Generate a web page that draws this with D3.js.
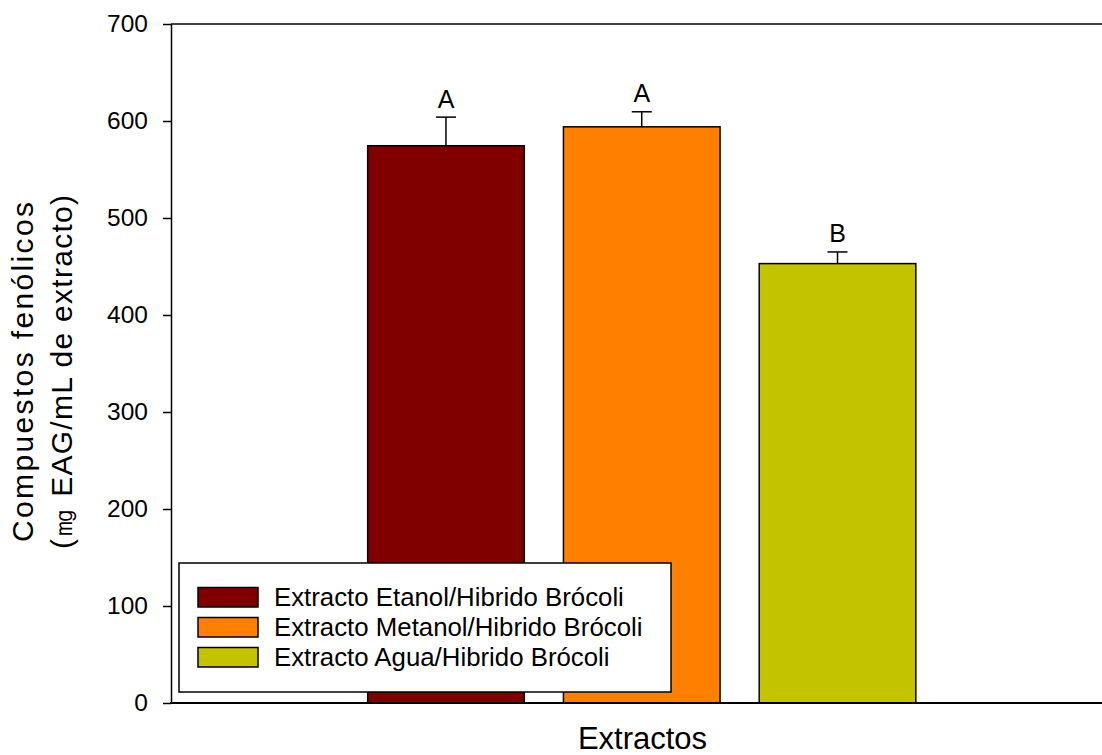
<!DOCTYPE html>
<html>
<head>
<meta charset="utf-8">
<script src="https://cdn.jsdelivr.net/npm/d3@7"></script>
<style>
  html, body { margin: 0; padding: 0; background: #fff; }
  svg { display: block; font-family: "Liberation Sans", Arial, sans-serif; }
</style>
</head>
<body>
<svg id="chart" width="1102" height="755"></svg>
<script>
// ---- data ----
const categories = ["Extracto Etanol/Hibrido Brócoli", "Extracto Metanol/Hibrido Brócoli", "Extracto Agua/Hibrido Brócoli"];
const values = [574.5, 594, 453];
const errors = [29.5, 15.5, 12];
const letters = ["A", "A", "B"];
const colors = ["#800000", "#FF8000", "#C3C300"];
const yTicks = [0, 100, 200, 300, 400, 500, 600, 700];
const yTitle = ["Compuestos fenólicos", "(㎎ EAG/mL de extracto)"];
const xTitle = "Extractos";

// ---- layout ----
const svg = d3.select("#chart");
const pLeft = 171, pRight = 1110, pTop = 24, pBottom = 703;

const y = d3.scaleLinear().domain([0, 700]).range([pBottom, pTop]);
const x = d3.scaleBand().domain(categories).range([348.1, 935.4]).paddingInner(0.2).paddingOuter(0.1);

// top frame line
svg.append("line").attr("x1", pLeft).attr("x2", pRight).attr("y1", pTop).attr("y2", pTop)
  .attr("stroke", "#000").attr("stroke-width", 1.5);

// bars
svg.selectAll("rect.bar").data(categories).join("rect").attr("class", "bar")
  .attr("x", d => x(d))
  .attr("width", x.bandwidth())
  .attr("y", (d, i) => y(values[i]))
  .attr("height", (d, i) => y(0) - y(values[i]))
  .attr("fill", (d, i) => colors[i])
  .attr("stroke", "#000").attr("stroke-width", 1.5);

// error bars
const eg = svg.selectAll("g.err").data(categories).join("g").attr("class", "err");
eg.append("line")
  .attr("x1", d => x(d) + x.bandwidth() / 2).attr("x2", d => x(d) + x.bandwidth() / 2)
  .attr("y1", (d, i) => y(values[i])).attr("y2", (d, i) => y(values[i] + errors[i]))
  .attr("stroke", "#000").attr("stroke-width", 1.5);
eg.append("line")
  .attr("x1", d => x(d) + x.bandwidth() / 2 - 10).attr("x2", d => x(d) + x.bandwidth() / 2 + 10)
  .attr("y1", (d, i) => y(values[i] + errors[i])).attr("y2", (d, i) => y(values[i] + errors[i]))
  .attr("stroke", "#000").attr("stroke-width", 1.5);
eg.append("text")
  .attr("x", d => x(d) + x.bandwidth() / 2)
  .attr("y", (d, i) => y(values[i] + errors[i]) - 9.5)
  .attr("text-anchor", "middle").attr("font-size", 25).attr("fill", "#000")
  .text((d, i) => letters[i]);

// y axis
const yAxis = d3.axisLeft(y).tickValues(yTicks).tickSize(8).tickPadding(15).tickSizeOuter(0);
const gy = svg.append("g").attr("transform", `translate(${pLeft},0)`).call(yAxis);
gy.select(".domain").attr("stroke", "#000").attr("stroke-width", 1.5);
gy.selectAll(".tick line").attr("stroke", "#000").attr("stroke-width", 1.5);
gy.selectAll(".tick text").attr("font-size", 24.5).attr("font-family", '"Liberation Sans", Arial, sans-serif').attr("fill", "#000");

// x axis (bottom line, no ticks)
const xAxis = d3.axisBottom(x).tickSize(0).tickFormat("").tickSizeOuter(0);
const gx = svg.append("g").attr("transform", `translate(0,${pBottom})`).call(xAxis);
gx.select(".domain").remove();
svg.append("line").attr("x1", pLeft - 1).attr("x2", pRight).attr("y1", pBottom).attr("y2", pBottom)
  .attr("stroke", "#000").attr("stroke-width", 2.2);

// x title
svg.append("text").attr("x", 642.5).attr("y", 749).attr("text-anchor", "middle")
  .attr("font-size", 31).attr("fill", "#000").text(xTitle);

// y title (two lines)
const yLens = [340, 354];
const yBase = [33, 72];
yTitle.forEach((t, i) => {
  svg.append("text")
    .attr("transform", `translate(${yBase[i]},372) rotate(-90)`)
    .attr("x", -yLens[i] / 2).attr("y", 0)
    .attr("font-size", 30).attr("fill", "#000")
    .attr("textLength", yLens[i]).attr("lengthAdjust", "spacing")
    .text(t);
});

// legend
const lg = svg.append("g");
lg.append("rect").attr("x", 179).attr("y", 563).attr("width", 492).attr("height", 129)
  .attr("fill", "#fff").attr("stroke", "#000").attr("stroke-width", 1.5);
const items = lg.selectAll("g.item").data(categories).join("g").attr("class", "item")
  .attr("transform", (d, i) => `translate(0,${587.5 + i * 30})`);
items.append("rect").attr("x", 198).attr("y", 0).attr("width", 60).attr("height", 19.5)
  .attr("fill", (d, i) => colors[i]).attr("stroke", "#000").attr("stroke-width", 1.5);
items.append("text").attr("x", 274).attr("y", 18).attr("font-size", 25.8).attr("fill", "#000")
  .text(d => d);
</script>
</body>
</html>
